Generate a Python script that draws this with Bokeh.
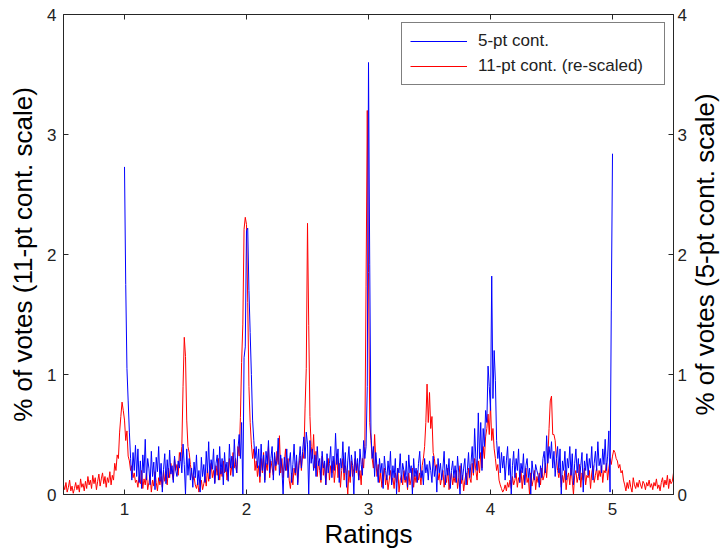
import math
from bokeh.plotting import figure
from bokeh.models import Range1d, LinearAxis, FixedTicker, Legend, LegendItem, Label
from bokeh.embed import file_html
from bokeh.resources import INLINE

# ---- data -------------------------------------------------------------
x_ticks = [1, 2, 3, 4, 5]
y_ticks = [0, 1, 2, 3, 4]
x_label = "Ratings"
y_left_label = "% of votes (11-pt cont. scale)"
y_right_label = "% of votes (5-pt cont. scale)"
blue_name = "5-pt cont."
red_name = "11-pt cont. (re-scaled)"

rating_step = 0.01
blue_start = 1.00   # 5-pt continuous ratings, 1.00 ... 5.00
red_start = 0.50    # 11-pt continuous ratings re-scaled, 0.50 ... 5.50

blue_pct = [
    2.73, 1.75, 1.05, 0.78, 0.52, 0.30, 0.12, 0.35, 0.20, 0.41,
    0.15, 0.38, 0.10, 0.28, 0.05, 0.33, 0.18, 0.46, 0.12, 0.30,
    0.22, 0.08, 0.36, 0.15, 0.27, 0.04, 0.31, 0.19, 0.40, 0.11,
    0.26, 0.02, 0.21, 0.34, 0.09, 0.29, 0.14, 0.37, 0.17, 0.24,
    0.10, 0.32, 0.20, 0.15, 0.28, 0.22, 0.35, 0.18, 0.42, 0.25,
    0.00, 0.38, 0.16, 0.30, 0.12, 0.22, 0.06, 0.27, 0.14, 0.33,
    0.08, 0.20, 0.02, 0.31, 0.15, 0.25, 0.10, 0.36, 0.18, 0.44,
    0.13, 0.29, 0.21, 0.38, 0.09, 0.26, 0.33, 0.12, 0.40, 0.17,
    0.30, 0.08, 0.35, 0.19, 0.27, 0.11, 0.42, 0.22, 0.32, 0.15,
    0.46, 0.25, 0.18, 0.38, 0.50, 0.30, 0.60, 0.00, 1.14, 1.23,
    2.20, 2.22, 1.70, 1.35, 1.00, 0.62, 0.45, 0.30, 0.40, 0.22,
    0.38, 0.15, 0.42, 0.20, 0.33, 0.10, 0.36, 0.25, 0.45, 0.18,
    0.30, 0.40, 0.12, 0.35, 0.24, 0.28, 0.47, 0.16, 0.33, 0.22,
    0.00, 0.31, 0.20, 0.38, 0.14, 0.27, 0.35, 0.10, 0.25, 0.42,
    0.18, 0.33, 0.08, 0.28, 0.40, 0.22, 0.36, 0.48, 0.30, 0.52,
    0.42, 0.00, 0.45, 0.26, 0.38, 0.20, 0.33, 0.15, 0.40, 0.24,
    0.30, 0.12, 0.36, 0.22, 0.28, 0.08, 0.34, 0.18, 0.26, 0.40,
    0.14, 0.32, 0.20, 0.51, 0.25, 0.38, 0.10, 0.30, 0.22, 0.44,
    0.18, 0.35, 0.06, 0.28, 0.40, 0.15, 0.33, 0.24, 0.00, 0.36,
    0.20, 0.30, 0.12, 0.38, 0.25, 0.16, 0.45, 0.30, 0.40, 0.90,
    3.60, 1.92, 0.52, 0.30, 0.40, 0.15, 0.35, 0.22, 0.10, 0.30,
    0.18, 0.26, 0.05, 0.32, 0.20, 0.12, 0.28, 0.16, 0.36, 0.08,
    0.24, 0.14, 0.30, 0.00, 0.22, 0.18, 0.34, 0.10, 0.26, 0.20,
    0.12, 0.28, 0.06, 0.33, 0.18, 0.24, 0.00, 0.30, 0.15, 0.22,
    0.10, 0.26, 0.36, 0.14, 0.20, 0.08, 0.30, 0.18, 0.25, 0.12,
    0.28, 0.20, 0.10, 0.32, 0.15, 0.24, 0.02, 0.30, 0.18, 0.26,
    0.12, 0.22, 0.36, 0.08, 0.25, 0.16, 0.30, 0.05, 0.20, 0.28,
    0.14, 0.24, 0.10, 0.32, 0.18, 0.00, 0.26, 0.12, 0.22, 0.30,
    0.08, 0.20, 0.35, 0.14, 0.26, 0.40, 0.18, 0.55, 0.30, 0.20,
    0.68, 0.30, 0.60, 0.20, 0.55, 0.40, 0.70, 0.60, 1.07, 0.90,
    0.70, 1.82, 0.80, 1.20, 0.95, 0.45, 0.30, 0.40, 0.18, 0.35,
    0.22, 0.32, 0.12, 0.28, 0.40, 0.16, 0.30, 0.00, 0.24, 0.36,
    0.14, 0.30, 0.20, 0.38, 0.10, 0.26, 0.18, 0.34, 0.08, 0.24,
    0.30, 0.14, 0.22, 0.00, 0.28, 0.18, 0.12, 0.25, 0.20, 0.16,
    0.06, 0.24, 0.14, 0.30, 0.36, 0.18, 0.49, 0.26, 0.40, 0.30,
    0.44, 0.22, 0.36, 0.15, 0.30, 0.40, 0.18, 0.38, 0.00, 0.28,
    0.20, 0.36, 0.12, 0.30, 0.22, 0.40, 0.16, 0.34, 0.08, 0.26,
    0.38, 0.18, 0.30, 0.12, 0.24, 0.35, 0.02, 0.28, 0.20, 0.34,
    0.16, 0.30, 0.22, 0.40, 0.12, 0.26, 0.36, 0.20, 0.44, 0.24,
    0.30, 0.18, 0.38, 0.25, 0.46, 0.20, 0.32, 0.53, 0.02, 1.53,
    2.84,
]

red_pct = [
    0.08, 0.04, 0.10, 0.02, 0.06, 0.12, 0.03, 0.07, 0.01, 0.05,
    0.10, 0.04, 0.08, 0.02, 0.13, 0.06, 0.09, 0.03, 0.11, 0.05,
    0.15, 0.08, 0.12, 0.05, 0.16, 0.09, 0.14, 0.04, 0.11, 0.17,
    0.07, 0.13, 0.18, 0.09, 0.15, 0.06, 0.14, 0.10, 0.19, 0.08,
    0.16, 0.12, 0.26, 0.20, 0.33, 0.30, 0.52, 0.65, 0.77, 0.70,
    0.62, 0.45, 0.53, 0.32, 0.28, 0.20, 0.24, 0.14, 0.18, 0.10,
    0.12, 0.06, 0.15, 0.09, 0.20, 0.05, 0.13, 0.08, 0.18, 0.04,
    0.10, 0.16, 0.02, 0.12, 0.07, 0.19, 0.10, 0.03, 0.14, 0.08,
    0.15, 0.06, 0.20, 0.11, 0.17, 0.08, 0.22, 0.14, 0.26, 0.18,
    0.12, 0.30, 0.20, 0.25, 0.16, 0.35, 0.28, 0.40, 0.90, 1.31,
    1.15, 0.62, 0.40, 0.35, 0.25, 0.18, 0.12, 0.15, 0.08, 0.05,
    0.10, 0.02, 0.06, 0.12, 0.04, 0.09, 0.15, 0.07, 0.22, 0.11,
    0.18, 0.26, 0.14, 0.20, 0.10, 0.24, 0.16, 0.30, 0.12, 0.22,
    0.15, 0.28, 0.18, 0.25, 0.12, 0.20, 0.30, 0.16, 0.24, 0.35,
    0.22, 0.30, 0.18, 0.40, 0.32, 0.64, 1.10, 1.42, 2.21, 2.31,
    2.25, 1.60, 0.90, 0.60, 0.42, 0.30, 0.38, 0.20, 0.28, 0.15,
    0.24, 0.10, 0.30, 0.18, 0.35, 0.12, 0.26, 0.20, 0.40, 0.14,
    0.28, 0.22, 0.16, 0.32, 0.20, 0.36, 0.25, 0.49, 0.18, 0.30,
    0.14, 0.26, 0.38, 0.20, 0.30, 0.12, 0.05, 0.18, 0.08, 0.22,
    0.16, 0.28, 0.10, 0.24, 0.32, 0.20, 0.35, 0.30, 0.72, 1.05,
    2.26, 1.41, 0.65, 0.40, 0.30, 0.50, 0.22, 0.36, 0.15, 0.28,
    0.20, 0.10, 0.32, 0.16, 0.26, 0.08, 0.22, 0.30, 0.12, 0.24,
    0.18, 0.28, 0.10, 0.22, 0.34, 0.14, 0.26, 0.06, 0.20, 0.30,
    0.12, 0.24, 0.16, 0.00, 0.20, 0.10, 0.28, 0.15, 0.22, 0.30,
    0.18, 0.26, 0.12, 0.20, 0.08, 0.30, 0.22, 0.40, 1.73, 3.20,
    1.85, 0.60, 0.45, 0.30, 0.22, 0.50, 0.28, 0.15, 0.25, 0.10,
    0.18, 0.06, 0.14, 0.22, 0.08, 0.16, 0.04, 0.12, 0.20, 0.10,
    0.14, 0.05, 0.18, 0.10, 0.22, 0.02, 0.12, 0.16, 0.08, 0.20,
    0.10, 0.15, 0.04, 0.18, 0.08, 0.13, 0.22, 0.06, 0.16, 0.10,
    0.20, 0.12, 0.18, 0.08, 0.24, 0.30, 0.40, 0.60, 0.92, 0.60,
    0.85, 0.55, 0.65, 0.35, 0.30, 0.20, 0.25, 0.12, 0.18, 0.08,
    0.14, 0.20, 0.06, 0.16, 0.10, 0.22, 0.04, 0.12, 0.18, 0.08,
    0.15, 0.10, 0.20, 0.05, 0.14, 0.24, 0.09, 0.16, 0.03, 0.12,
    0.18, 0.08, 0.22, 0.14, 0.10, 0.26, 0.16, 0.30, 0.20, 0.12,
    0.28, 0.18, 0.35, 0.22, 0.40, 0.30, 0.48, 0.55, 0.67, 0.50,
    0.75, 0.45, 0.55, 0.38, 0.30, 0.20, 0.25, 0.12, 0.08, 0.05,
    0.02, 0.04, 0.08, 0.03, 0.10, 0.06, 0.12, 0.05, 0.15, 0.08,
    0.12, 0.18, 0.06, 0.14, 0.10, 0.20, 0.05, 0.16, 0.08, 0.22,
    0.10, 0.14, 0.00, 0.18, 0.07, 0.12, 0.20, 0.04, 0.15, 0.10,
    0.18, 0.08, 0.22, 0.12, 0.16, 0.26, 0.14, 0.30, 0.55, 0.78,
    0.82, 0.50, 0.50, 0.45, 0.30, 0.20, 0.14, 0.22, 0.06, 0.16,
    0.10, 0.20, 0.04, 0.14, 0.18, 0.08, 0.22, 0.12, 0.00, 0.16,
    0.20, 0.10, 0.15, 0.25, 0.06, 0.18, 0.12, 0.22, 0.08, 0.16,
    0.14, 0.20, 0.05, 0.18, 0.24, 0.10, 0.16, 0.22, 0.12, 0.20,
    0.15, 0.24, 0.10, 0.20, 0.18, 0.26, 0.12, 0.22, 0.30, 0.25,
    0.32, 0.37, 0.35, 0.30, 0.28, 0.22, 0.25, 0.18, 0.20, 0.12,
    0.08, 0.03, 0.10, 0.05, 0.12, 0.06, 0.02, 0.14, 0.08, 0.05,
    0.10, 0.06, 0.12, 0.08, 0.05, 0.11, 0.09, 0.04, 0.10, 0.07,
    0.12, 0.06, 0.09, 0.04, 0.10, 0.07, 0.13, 0.05, 0.08, 0.03,
    0.10, 0.14, 0.06, 0.12, 0.08, 0.16, 0.05, 0.13, 0.09, 0.11,
    0.18,
]

blue_x = [round(blue_start + i * rating_step, 2) for i in range(len(blue_pct))]
red_x = [round(red_start + i * rating_step, 2) for i in range(len(red_pct))]

# ---- figure -----------------------------------------------------------
FONT = "Liberation Sans"
AX = "#262626"
TICK_FS = "17px"
LABEL_FS = "26px"
FRAME_H = 480  # px

p = figure(width=721, height=554,
           x_range=Range1d(0.5, 5.5), y_range=Range1d(0, 4),
           output_backend="svg", toolbar_location=None,
           min_border_left=63, min_border_right=48,
           min_border_top=14, min_border_bottom=60)
p.extra_y_ranges = {"right": Range1d(0, 4)}
p.xgrid.visible = False
p.ygrid.visible = False
p.outline_line_color = AX
p.background_fill_color = "white"
p.border_fill_color = "white"

bottom_axis = p.below[0]
left_axis = p.left[0]
right_axis = LinearAxis(y_range_name="right")
p.add_layout(right_axis, "right")

for ax in [bottom_axis, left_axis, right_axis]:
    ax.major_tick_in = 5
    ax.major_tick_out = 0
    ax.minor_tick_in = 0
    ax.minor_tick_out = 0
    ax.axis_line_color = AX
    ax.major_tick_line_color = AX
    ax.major_label_text_font = FONT
    ax.major_label_text_font_size = TICK_FS
    ax.major_label_text_color = "#222222"
    ax.axis_label_text_font = FONT
    ax.axis_label_text_font_size = LABEL_FS
    ax.axis_label_text_font_style = "normal"
    ax.axis_label_text_color = "black"

bottom_axis.ticker = FixedTicker(ticks=x_ticks)
for ax in [left_axis, right_axis]:
    ax.ticker = FixedTicker(ticks=y_ticks)

bottom_axis.axis_label = x_label
bottom_axis.major_label_standoff = 8
bottom_axis.axis_label_standoff = 1

left_axis.axis_label = y_left_label
left_axis.major_label_standoff = 7
left_axis.axis_label_standoff = 6

right_axis.major_label_standoff = 4

# inward tick marks on the top edge of the box, at the x tick positions
y_top = y_ticks[-1]
tick_len = 5 * (y_ticks[-1] - y_ticks[0]) / FRAME_H
p.segment(x0=x_ticks, y0=[y_top] * len(x_ticks),
          x1=x_ticks, y1=[y_top - tick_len] * len(x_ticks),
          line_color=AX, line_width=1)

r_red = p.line(red_x, red_pct, line_color="#ff0000", line_width=1)
r_blue = p.line(blue_x, blue_pct, line_color="#0000ff", line_width=1,
                y_range_name="right")

legend = Legend(items=[LegendItem(label=blue_name, renderers=[r_blue]),
                       LegendItem(label=red_name, renderers=[r_red])],
                location="top_right", margin=8,
                border_line_color="black", border_line_width=1,
                background_fill_color="white", background_fill_alpha=1,
                label_text_font=FONT, label_text_font_size="17px",
                label_text_color="#222222",
                glyph_width=57, glyph_height=20, label_height=20,
                label_standoff=11, padding=8, spacing=5, label_width=178)
p.add_layout(legend)

# right-hand axis title, reading bottom-to-top like the left one
right_title = Label(x=15, y=240, x_units="screen", y_units="screen",
                    text=y_right_label, angle=math.pi / 2, angle_units="rad",
                    text_align="center", text_baseline="middle",
                    text_font=FONT, text_font_size=LABEL_FS,
                    text_color="black")
p.add_layout(right_title, "right")

open("out.html", "w").write(file_html(p, INLINE))
